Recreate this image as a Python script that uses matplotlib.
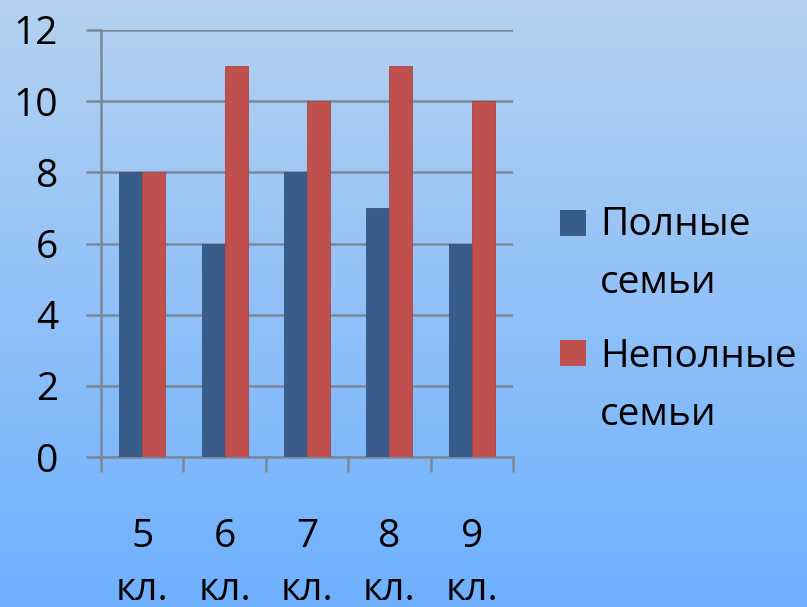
"""
Grouped bar chart: full vs. incomplete families per grade
"""

import numpy as np
import matplotlib
matplotlib.use('Agg')
import matplotlib.pyplot as plt
from matplotlib.patches import Rectangle

plt.rcParams['font.family'] = ['Open Sans', 'DejaVu Sans']

grades = ['5\nкл.', '6\nкл.', '7\nкл.', '8\nкл.', '9\nкл.']
full = [8, 6, 8, 7, 6]
incomplete = [8, 11, 10, 11, 10]
series_names = [('Полные', 'семьи'), ('Неполные', 'семьи')]
series_colors = ['#385d8a', '#c0504d']

W, H = 807, 607


def fy(py):
    # pixel row from top -> figure fraction
    return 1 - py / H


def main():
    fig = plt.figure(figsize=(W / 100, H / 100), dpi=100)

    # background gradient over the whole figure
    bg = fig.add_axes([0, 0, 1, 1], zorder=-10)
    top = np.array([180, 210, 240]) / 255
    bot = np.array([110, 176, 255]) / 255
    t = np.linspace(0, 1, 256)[:, None]
    grad = top * (1 - t) + bot * t
    bg.imshow(grad[:, None, :], aspect='auto', extent=[0, 1, 0, 1])
    bg.axis('off')

    ax = fig.add_axes([101 / W, fy(457), 412 / W, 427 / H])
    ax.patch.set_alpha(0)

    x = np.arange(len(grades))
    w = 0.28
    grid_c = '#7a8899'
    ax.bar(x - w / 2, full, w, color=series_colors[0], edgecolor='#34557c',
           linewidth=0.6, zorder=3)
    ax.bar(x + w / 2, incomplete, w, color=series_colors[1],
           edgecolor='#a94744', linewidth=0.6, zorder=3)

    ax.set_xlim(-0.5, len(grades) - 0.5)
    ax.set_ylim(0, 12)
    ax.set_yticks(range(0, 13, 2))
    ax.yaxis.grid(True, color=grid_c, linewidth=1.8)
    ax.set_axisbelow(True)
    for s in ['top', 'right']:
        ax.spines[s].set_visible(False)
    for s in ['left', 'bottom']:
        ax.spines[s].set_color(grid_c)
        ax.spines[s].set_linewidth(1.8)

    # category boundary ticks below the axis
    ax.set_xticks(np.arange(-0.5, len(grades)))
    ax.set_xticklabels([])
    ax.tick_params(axis='x', which='major', length=11, width=1.8,
                   color=grid_c, direction='out')
    ax.set_xticks(x, minor=True)
    ax.set_xticklabels(grades, minor=True, fontsize=28, linespacing=1.5)
    ax.tick_params(axis='x', which='minor', length=0, pad=44)
    ax.tick_params(axis='y', length=11, width=1.8, color=grid_c,
                   labelsize=28, pad=20)

    # legend: square marker aligned with the first line of each label
    rows = [(210, 235, 293), (340, 367, 425)]
    for (sq_top, base1, base2), (l1, l2), c in zip(rows, series_names,
                                                  series_colors):
        fig.patches.append(Rectangle((560 / W, fy(sq_top + 26)), 26 / W,
                                     26 / H, transform=fig.transFigure,
                                     facecolor=c, edgecolor='none'))
        fig.text(600 / W, fy(base1), l1, fontsize=28, va='baseline')
        fig.text(600 / W, fy(base2), l2, fontsize=28, va='baseline')

    fig.savefig('out.png', dpi=100)


if __name__ == '__main__':
    main()
